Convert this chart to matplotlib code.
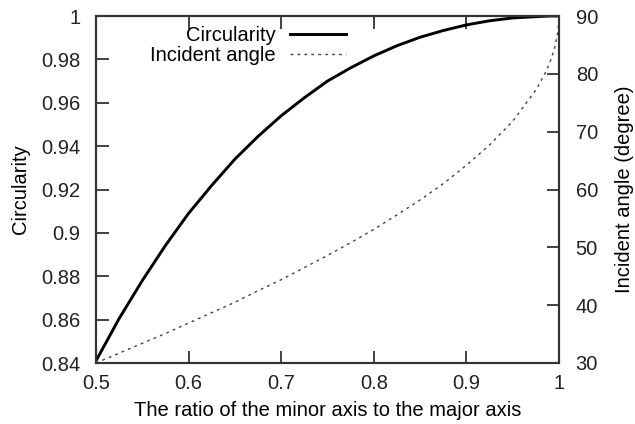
import matplotlib.pyplot as plt

plt.rcParams['font.family'] = ['Liberation Sans', 'DejaVu Sans']

# values
ratio = [0.5, 0.525, 0.55, 0.575, 0.6, 0.625, 0.65, 0.675, 0.7, 0.725, 0.75, 0.775,
         0.8, 0.825, 0.85, 0.875, 0.9, 0.925, 0.95, 0.975, 0.985, 0.99, 0.995, 0.999, 1.0]
circularity = [0.841, 0.8605, 0.878, 0.8942, 0.909, 0.9219, 0.934, 0.9445, 0.954, 0.9623,
               0.970, 0.9761, 0.9816, 0.9863, 0.9902, 0.9933, 0.9959, 0.9978, 0.9991, 0.9997,
               0.9999, 1.0, 1.0, 1.0, 1.0]
angle = [30.0, 31.7, 33.4, 35.1, 36.9, 38.7, 40.5, 42.5, 44.4, 46.5, 48.6, 50.8,
         53.1, 55.6, 58.2, 61.0, 64.2, 67.7, 71.8, 77.2, 80.1, 81.9, 84.3, 87.4, 90.0]

fig = plt.figure(figsize=(6.35, 4.24), dpi=100)
ax = fig.add_axes([96/635, 61/424, 463/635, 347/424])
ax2 = ax.twinx()

l1, = ax.plot(ratio, circularity, color='black', linewidth=2.1, label='Circularity')
l2, = ax2.plot(ratio, angle, color='#444444', linewidth=1.0, linestyle=(0, (2, 3)),
               label='Incident angle')

ax.set_xlim(0.5, 1)
ax.set_ylim(0.84, 1)
ax2.set_ylim(30, 90)
ax.set_xticks([0.5, 0.6, 0.7, 0.8, 0.9, 1])
ax.set_xticklabels(['0.5', '0.6', '0.7', '0.8', '0.9', '1'])
ax.set_yticks([0.84, 0.86, 0.88, 0.9, 0.92, 0.94, 0.96, 0.98, 1])
ax.set_yticklabels(['0.84', '0.86', '0.88', '0.9', '0.92', '0.94', '0.96', '0.98', '1'])
ax2.set_yticks([30, 40, 50, 60, 70, 80, 90])

fs = 14.5
ax.tick_params(axis='x', direction='in', length=9, width=1.2, top=True, labelsize=fs, pad=8, colors='#222222')
ax.tick_params(axis='y', direction='in', length=9, width=1.2, labelsize=fs, pad=11, colors='#222222')
ax2.tick_params(axis='y', direction='in', length=9, width=1.2, labelsize=fs, pad=12, colors='#222222')
for a in (ax, ax2):
    for s in a.spines.values():
        s.set_linewidth(1.5)
        s.set_color('#333333')

ax.set_xlabel('The ratio of the minor axis to the major axis', fontsize=fs, labelpad=6)
ax.set_ylabel('Circularity', fontsize=fs, labelpad=8)
ax2.set_ylabel('Incident angle (degree)', fontsize=fs, labelpad=12)

ax.legend([l1, l2], ['Circularity', 'Incident angle'], loc='upper right',
          bbox_to_anchor=(346/635, 1 - 26/424), bbox_transform=fig.transFigure,
          frameon=False, markerfirst=False, fontsize=fs, handlelength=2.8,
          handletextpad=0.7, labelspacing=0.05, borderpad=0, borderaxespad=0)

fig.savefig('out.png', dpi=100)
